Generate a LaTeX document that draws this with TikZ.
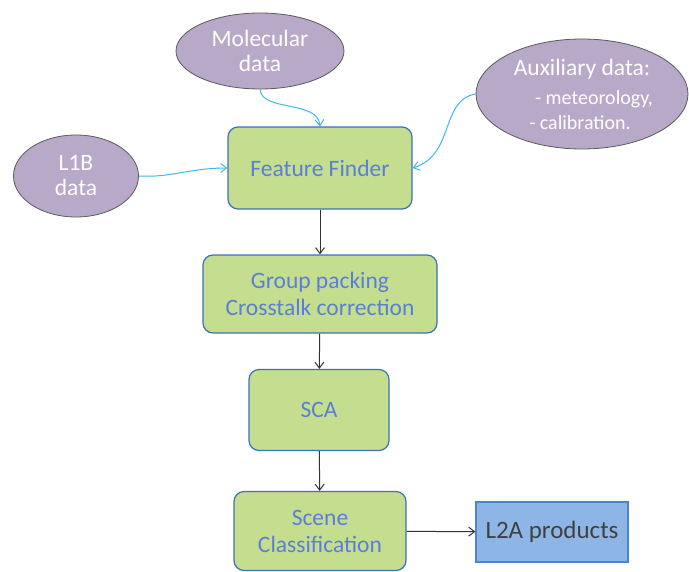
\documentclass[tikz,border=0pt]{standalone}
\usepackage{fontspec}
\setmainfont{Carlito}
\usetikzlibrary{shapes.geometric,arrows.meta}
\definecolor{ellfill}{HTML}{B8A9C9}
\definecolor{ellline}{HTML}{5A5A5A}
\definecolor{boxfill}{HTML}{C4DD8E}
\definecolor{boxline}{HTML}{3B72B8}
\definecolor{boxtext}{HTML}{5A7FD8}
\definecolor{prodfill}{HTML}{8DB6E6}
\definecolor{prodline}{HTML}{4A86D0}
\definecolor{feed}{HTML}{3FB8EA}
\tikzset{
  datasrc/.style={ellipse, draw=ellline, line width=0.8pt, fill=ellfill,
    text=white, font=\fontsize{23.5}{25}\selectfont, align=center, inner sep=0pt},
  procbox/.style={rectangle, rounded corners=10pt, draw=boxline, line width=1.2pt,
    fill=boxfill, text=boxtext, font=\fontsize{23.5}{27}\selectfont, align=center},
  prodbox/.style={rectangle, draw=prodline, line width=1.2pt, fill=prodfill,
    text=black!75, font=\fontsize{25}{28}\selectfont},
  feedarrow/.style={draw=feed, line width=1pt, -{Straight Barb[length=6pt,width=9pt]}},
  flowarrow/.style={draw=black!80, line width=1pt, -{Straight Barb[length=6pt,width=9pt]}}
}
\begin{document}
\begin{tikzpicture}[x=1pt,y=-1pt]
\useasboundingbox[fill=white] (0,0) rectangle (689,572);

% input data sources
\node[datasrc, minimum width=168pt, minimum height=76pt] (mol) at (260,51) {Molecular\\data};
\node[datasrc, minimum width=212pt, minimum height=110pt] (aux) at (582,94)
  {Auxiliary data:\\[4pt]{\fontsize{20}{20}\selectfont\hspace*{24pt}- meteorology,}\\
   {\fontsize{20}{20}\selectfont\hspace*{-4pt}- calibration.}};
\node[datasrc, minimum width=125pt, minimum height=82pt] (l1b) at (76,176) {L1B\\data};

% processing chain
\node[procbox, minimum width=184pt, minimum height=82pt] (ff) at (320,168) {Feature Finder};
\node[procbox, minimum width=234pt, minimum height=78pt] (gp) at (320,294) {Group packing\\Crosstalk correction};
\node[procbox, minimum width=140pt, minimum height=81pt] (sca) at (319,410) {SCA};
\node[procbox, minimum width=172pt, minimum height=79pt] (sc) at (320,531) {Scene\\Classification};
\node[prodbox, minimum width=152pt, minimum height=60pt] (l2a) at (552,532) {L2A products};

% feeds into the feature finder
\draw[feedarrow] (mol.south) .. controls (262,112) and (318,100) .. (ff.north);
\draw[feedarrow] (aux.west) .. controls (440,100) and (455,155) .. (ff.east);
\draw[feedarrow] (l1b.east) .. controls (170,178) and (190,168) .. (ff.west);

% main flow
\draw[flowarrow] (ff) -- (gp);
\draw[flowarrow] (gp) -- (sca);
\draw[flowarrow] (sca) -- (sc);
\draw[flowarrow] (sc) -- (l2a);
\end{tikzpicture}
\end{document}
